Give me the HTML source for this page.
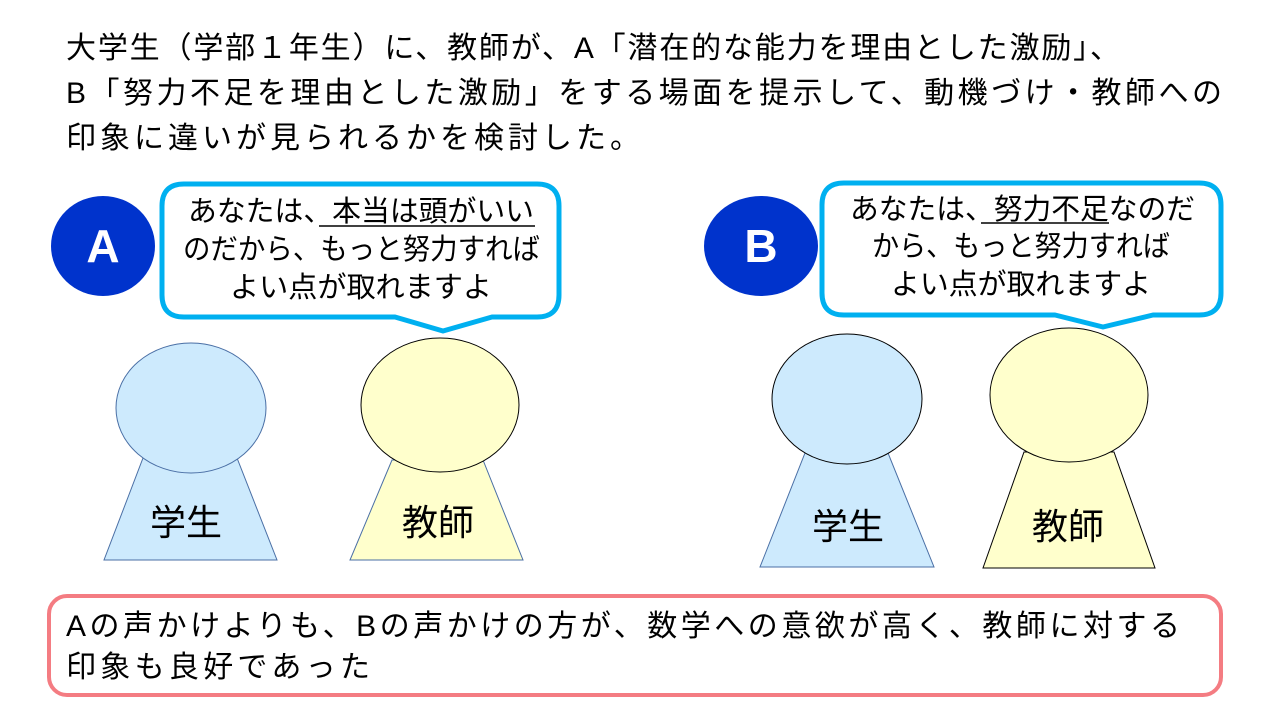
<!DOCTYPE html>
<html><head><meta charset="utf-8"><style>
html,body{margin:0;padding:0;background:#fff;}
svg{display:block;}
text{font-family:"Liberation Sans","Noto Sans CJK JP",sans-serif;fill:#000;}
</style></head><body>
<svg width="1280" height="720" viewBox="0 0 1280 720" xmlns="http://www.w3.org/2000/svg">
<rect width="1280" height="720" fill="#fff"/>
<g font-size="30">
<text x="66" y="58" textLength="1054" lengthAdjust="spacing">大学生（学部１年生）に、教師が、A「潜在的な能力を理由とした激励」、</text>
<text x="66" y="103" textLength="1156" lengthAdjust="spacing">B「努力不足を理由とした激励」をする場面を提示して、動機づけ・教師への</text>
<text x="66" y="148" textLength="574" lengthAdjust="spacing">印象に違いが見られるかを検討した。</text>
</g>

<!-- A panel -->
<ellipse cx="103" cy="246" rx="52" ry="50" fill="#0033cc"/>
<text x="103" y="262" font-size="46" text-anchor="middle" style="fill:#fff" font-weight="bold">A</text>
<path d="M184,184 H537 Q559,184 559,206 V295 Q559,317 537,317 H492 L443,331 L395,317 H184 Q162,317 162,295 V206 Q162,184 184,184 Z" fill="#fff" stroke="#00b0f0" stroke-width="5" stroke-linejoin="round"/>
<g font-size="29">
<text x="188" y="221" textLength="346" lengthAdjust="spacingAndGlyphs">あなたは、本当は頭がいい</text>
<text x="183" y="259" textLength="357" lengthAdjust="spacingAndGlyphs">のだから、もっと努力すれば</text>
<text x="230" y="297" textLength="262" lengthAdjust="spacingAndGlyphs">よい点が取れますよ</text>
</g>
<line x1="319" y1="226" x2="535" y2="226" stroke="#000" stroke-width="1.5"/>

<polygon points="143,458 237,458 277,560 104,560" fill="#cdeafd" stroke="#4a6fa5" stroke-width="1"/>
<ellipse cx="191" cy="408" rx="75" ry="65" fill="#cdeafd" stroke="#4a6fa5" stroke-width="1"/>
<text x="186" y="535" font-size="36" text-anchor="middle">学生</text>

<polygon points="392,460 483,460 523,560 350,560" fill="#ffffcc" stroke="#4a6fa5" stroke-width="1"/>
<ellipse cx="440" cy="405" rx="79" ry="67" fill="#ffffcc" stroke="#000" stroke-width="1"/>
<text x="438" y="535" font-size="36" text-anchor="middle">教師</text>

<!-- B panel -->
<ellipse cx="761" cy="246" rx="57" ry="50" fill="#0033cc"/>
<text x="761" y="262" font-size="46" text-anchor="middle" style="fill:#fff" font-weight="bold">B</text>
<path d="M844,183 H1199 Q1221,183 1221,205 V293 Q1221,315 1199,315 H1153 L1103,327 L1055,315 H844 Q822,315 822,293 V205 Q822,183 844,183 Z" fill="#fff" stroke="#00b0f0" stroke-width="5" stroke-linejoin="round"/>
<g font-size="29">
<text x="850" y="219" textLength="345" lengthAdjust="spacingAndGlyphs">あなたは、努力不足なのだ</text>
<text x="872" y="256" textLength="298" lengthAdjust="spacingAndGlyphs">から、もっと努力すれば</text>
<text x="891" y="294" textLength="260" lengthAdjust="spacingAndGlyphs">よい点が取れますよ</text>
</g>
<line x1="981" y1="223" x2="1109" y2="223" stroke="#000" stroke-width="1.5"/>

<polygon points="805,453 888,453 934,567 760,567" fill="#cdeafd" stroke="#4a6fa5" stroke-width="1"/>
<ellipse cx="847" cy="399" rx="75" ry="65" fill="#cdeafd" stroke="#000" stroke-width="1"/>
<text x="848" y="539" font-size="36" text-anchor="middle">学生</text>

<polygon points="1024,452 1114,452 1155,568 983,568" fill="#ffffcc" stroke="#000" stroke-width="1"/>
<ellipse cx="1069" cy="395" rx="79" ry="67" fill="#ffffcc" stroke="#000" stroke-width="1"/>
<text x="1068" y="539" font-size="36" text-anchor="middle">教師</text>

<!-- bottom box -->
<rect x="49" y="596" width="1172" height="99" rx="18" ry="18" fill="#fff" stroke="#f47c82" stroke-width="4"/>
<g font-size="30">
<text x="66" y="636" textLength="1114" lengthAdjust="spacing">Aの声かけよりも、Bの声かけの方が、数学への意欲が高く、教師に対する</text>
<text x="66" y="677" textLength="304" lengthAdjust="spacing">印象も良好であった</text>
</g>
</svg>
</body></html>
